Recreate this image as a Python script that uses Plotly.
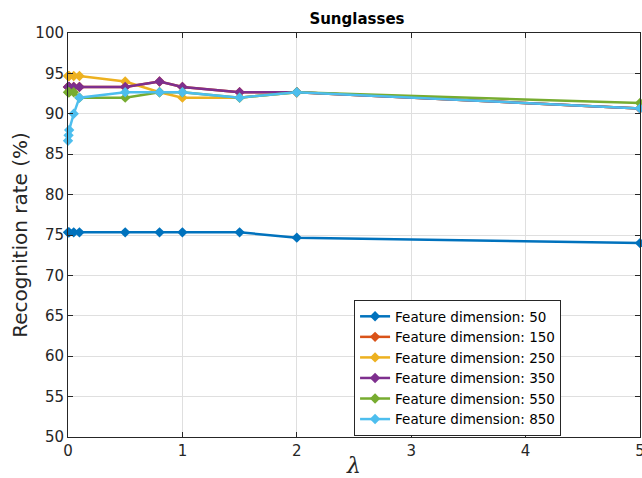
import plotly.graph_objects as go

LAMBDA = [0, 0.005, 0.01, 0.05, 0.1, 0.5, 0.8, 1, 1.5, 2, 5]
NAMES = ["Feature dimension: 50", "Feature dimension: 150", "Feature dimension: 250",
         "Feature dimension: 350", "Feature dimension: 550", "Feature dimension: 850"]
D50 = [75.33, 75.33, 75.33, 75.33, 75.33, 75.33, 75.33, 75.33, 75.33, 74.67, 74.0]
D150 = [93.33, 93.33, 93.33, 93.33, 93.33, 93.33, 94.0, 93.33, 92.67, 92.67, 90.67]
D250 = [94.67, 94.67, 94.67, 94.67, 94.67, 94.0, 92.67, 92.0, 92.0, 92.67, 90.67]
D350 = [93.33, 93.33, 93.33, 93.33, 93.33, 93.33, 94.0, 93.33, 92.67, 92.67, 90.67]
D550 = [92.67, 92.67, 92.67, 92.67, 92.0, 92.0, 92.67, 92.67, 92.0, 92.67, 91.33]
D850 = [86.67, 87.33, 88.0, 90.0, 92.0, 92.67, 92.67, 92.67, 92.0, 92.67, 90.67]
SERIES = [D50, D150, D250, D350, D550, D850]
COLORS = ["#0072BD", "#D95319", "#EDB120", "#7E2F8E", "#77AC30", "#4DBEEE"]
XTICKS = [0, 1, 2, 3, 4, 5]
YTICKS = [50, 55, 60, 65, 70, 75, 80, 85, 90, 95, 100]

fig = go.Figure()
for name, ys, c in zip(NAMES, SERIES, COLORS):
    fig.add_trace(go.Scatter(
        x=LAMBDA, y=ys, name=name, mode="lines+markers",
        line=dict(color=c, width=2.5),
        marker=dict(symbol="diamond", size=8, color=c),
        cliponaxis=False,
    ))

axis_common = dict(
    showline=True, linecolor="#262626", linewidth=1, mirror="ticks",
    ticks="inside", ticklen=5, tickcolor="#262626",
    showgrid=True, gridcolor="#DFDFDF", gridwidth=1, zeroline=False,
    automargin=False, ticklabeloverflow="allow",
    tickfont=dict(family="DejaVu Sans", size=15, color="#262626"),
)

fig.update_layout(
    width=642, height=478,
    margin=dict(l=68, r=2, t=33, b=41),
    paper_bgcolor="white", plot_bgcolor="white",
    title=dict(text="<b>Sunglasses</b>", x=0.556, xanchor="center", y=0.96, yanchor="middle",
               font=dict(family="DejaVu Sans", size=15, color="black")),
    xaxis=dict(range=[0, 5], tickvals=XTICKS,
               title=dict(text="<i>λ</i>", font=dict(family="DejaVu Serif", size=22, color="#262626"), standoff=11),
               **axis_common),
    yaxis=dict(range=[50, 100], tickvals=YTICKS,
               title=dict(text="Recognition rate (%)", font=dict(family="DejaVu Sans", size=20, color="#262626"), standoff=2),
               **axis_common),
    legend=dict(x=0.862, y=0.339, xanchor="right", yanchor="top",
                bgcolor="white", bordercolor="#262626", borderwidth=1,
                font=dict(family="DejaVu Sans", size=13.5, color="black"),
                tracegroupgap=0, itemwidth=30),
    showlegend=True,
)

fig.write_html("out.html", config={"displayModeBar": False},
               post_script="document.body.style.margin='0';document.body.style.overflow='hidden';")
